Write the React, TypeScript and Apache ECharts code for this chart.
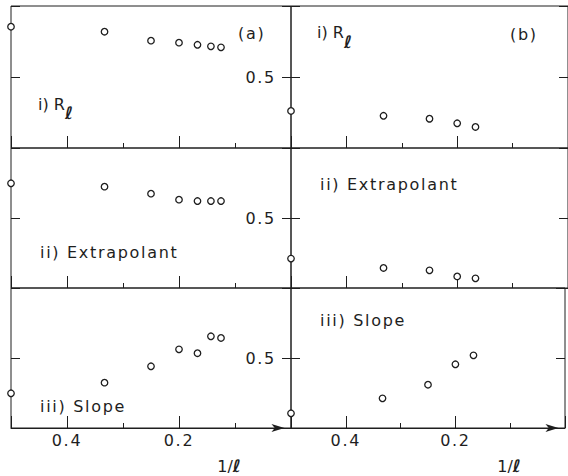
import React, { useEffect, useRef } from "react";
import * as echarts from "echarts";

// 1/ℓ positions of the points (ℓ = 2..8 for (a), ℓ = 2..6 for (b))
const invEllA = [0.5, 0.333, 0.25, 0.2, 0.167, 0.143, 0.125];
const invEllB = [0.5, 0.333, 0.25, 0.2, 0.167];

// (a) column
const rA = [0.854, 0.819, 0.756, 0.742, 0.727, 0.716, 0.709];
const extA = [0.748, 0.724, 0.674, 0.631, 0.621, 0.621, 0.621];
const slopeA = [0.248, 0.324, 0.441, 0.562, 0.534, 0.655, 0.643];

// (b) column
const rB = [0.261, 0.227, 0.206, 0.174, 0.148];
const extB = [0.21, 0.143, 0.126, 0.083, 0.069];
const slopeB = [0.105, 0.212, 0.309, 0.455, 0.519];

const xTickLabels = ["0.4", "0.2"];
const yTickLabels = ["0.5"];

const INK = "#1e1e1e";
const FONT = "DejaVu Sans";

const cols = [
  { left: 11, width: 280 },
  { left: 291, width: 280 },
];
const rows = [
  { top: 6, height: 142 },
  { top: 148, height: 140 },
  { top: 288, height: 140 },
];

const panels = [
  { c: 0, r: 0, x: invEllA, y: rA },
  { c: 0, r: 1, x: invEllA, y: extA },
  { c: 0, r: 2, x: invEllA, y: slopeA },
  { c: 1, r: 0, x: invEllB, y: rB },
  { c: 1, r: 1, x: invEllB, y: extB },
  { c: 1, r: 2, x: invEllB, y: slopeB },
];

const pick = (labels: string[], v: number) =>
  labels.find((t) => Math.abs(parseFloat(t) - v) < 1e-6) ?? "";

const SPACED = new Set(["ii) Extrapolant", "iii) Slope", "(a)", "(b)", "0.5", "0.4", "0.2"]);

export default function App() {
  const ref = useRef<HTMLDivElement>(null);
  useEffect(() => {
    const el = ref.current!;
    const chart = echarts.init(el, null, { renderer: "svg" });

    const grid: any[] = [];
    const xAxis: any[] = [];
    const yAxis: any[] = [];
    const series: any[] = [];

    panels.forEach((p, g) => {
      const col = cols[p.c];
      const row = rows[p.r];
      grid.push({
        left: col.left,
        width: col.width,
        top: row.top,
        height: row.height,
        show: true,
        borderColor: INK,
        borderWidth: 1,
        backgroundColor: "transparent",
      });
      const isBottom = p.r === 2;
      // minor ticks every 0.1
      xAxis.push({
        gridIndex: g,
        type: "value",
        inverse: true,
        min: 0,
        max: 0.5,
        interval: 0.1,
        position: "bottom",
        axisLine: {
          show: isBottom,
          onZero: false,
          symbol: ["none", "arrow"],
          symbolSize: [6, 13],
          symbolOffset: [0, -6.5],
          lineStyle: { color: INK, width: 1 },
        },
        axisTick: { show: true, inside: true, length: 5, lineStyle: { color: INK, width: 1 } },
        axisLabel: { show: false },
        splitLine: { show: false },
      });
      // major ticks every 0.2 with labels
      xAxis.push({
        gridIndex: g,
        type: "value",
        inverse: true,
        min: 0,
        max: 0.5,
        interval: 0.2,
        position: "bottom",
        axisLine: { show: false, onZero: false },
        axisTick: { show: true, inside: true, length: 12, lineStyle: { color: INK, width: 1 } },
        axisLabel: {
          show: isBottom,
          margin: 4,
          color: INK,
          fontFamily: FONT,
          fontSize: 16,
          formatter: (v: number) => pick(xTickLabels, v),
        },
        splitLine: { show: false },
      });
      yAxis.push({
        gridIndex: g,
        type: "value",
        min: 0,
        max: 1,
        interval: 0.5,
        position: "left",
        axisLine: { show: false, onZero: false },
        axisTick: { show: true, inside: true, length: 9, lineStyle: { color: INK, width: 1 } },
        axisLabel: { show: false },
        splitLine: { show: false },
      });
      yAxis.push({
        gridIndex: g,
        type: "value",
        min: 0,
        max: 1,
        interval: 0.5,
        position: "right",
        axisLine: { show: false, onZero: false },
        axisTick: { show: true, inside: true, length: 9, lineStyle: { color: INK, width: 1 } },
        axisLabel: {
          show: p.c === 0,
          inside: true,
          margin: 15,
          color: INK,
          fontFamily: FONT,
          fontSize: 16,
          formatter: (v: number) => pick(yTickLabels, v),
        },
        splitLine: { show: false },
      });
      series.push({
        type: "scatter",
        xAxisIndex: 2 * g,
        yAxisIndex: 2 * g,
        symbol: "circle",
        symbolSize: 6.5,
        clip: false,
        silent: true,
        z: 5,
        itemStyle: { color: "#ffffff", borderColor: INK, borderWidth: 1.3, opacity: 1 },
        data: p.x.map((x, i) => [x, p.y[i]]),
      });
    });

    const txt = (text: string, x: number, y: number, extra: any = {}) => ({
      type: "text",
      x,
      y,
      silent: true,
      z: 10,
      style: {
        text,
        fill: INK,
        fontFamily: FONT,
        fontSize: 16,
        verticalAlign: "middle",
        align: "left",
        ...extra,
      },
    });

    const ell = (x: number, y: number) =>
      txt("ℓ", x, y, { fontSize: 17, fontStyle: "italic", fontWeight: "bold" });

    const invEllLabel = (x: number, y: number) => ({
      type: "text",
      x,
      y,
      silent: true,
      z: 10,
      style: {
        text: "{n|1/}{s|ℓ}",
        align: "center",
        verticalAlign: "middle",
        rich: {
          n: { fill: INK, fontFamily: FONT, fontSize: 16 },
          s: { fill: INK, fontFamily: FONT, fontSize: 17, fontStyle: "italic", fontWeight: "bold" },
        },
      },
    });

    const graphic = [
      txt("(a)", 238, 33),
      txt("(b)", 510, 34),
      txt("i) R", 38, 104),
      ell(65, 113),
      txt("i) R", 317, 32),
      ell(344, 42),
      txt("ii) Extrapolant", 40, 252),
      txt("ii) Extrapolant", 320, 184),
      txt("iii) Slope", 40, 406),
      txt("iii) Slope", 320, 320),
      invEllLabel(229, 466),
      invEllLabel(509, 466),
    ];

    chart.setOption({
      animation: false,
      backgroundColor: "#ffffff",
      grid,
      xAxis,
      yAxis,
      series,
      graphic,
    });

    const applySpacing = () => {
      el.querySelectorAll("text").forEach((t) => {
        if (SPACED.has((t.textContent ?? "").trim())) t.setAttribute("letter-spacing", "1.7");
      });
    };
    chart.on("finished", applySpacing);
    applySpacing();
    const timer = setTimeout(applySpacing, 50);

    return () => {
      clearTimeout(timer);
      chart.dispose();
    };
  }, []);

  return (
    <div
      ref={ref}
      style={{ position: "fixed", left: 0, top: 0, width: 568, height: 476, background: "#fff" }}
    />
  );
}
